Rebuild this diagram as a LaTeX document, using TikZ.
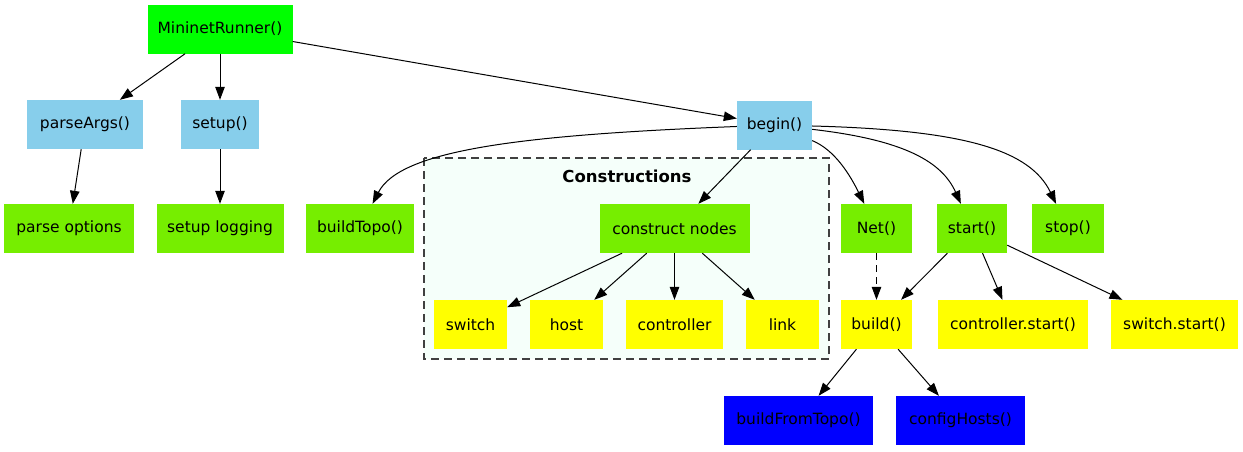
\documentclass[tikz,border=0pt]{standalone}
\usepackage{fontspec}
\setmainfont{DejaVu Sans}
\usetikzlibrary{arrows.meta}
\definecolor{cgreen}{HTML}{00FF00}
\definecolor{lgreen}{HTML}{76EE00}
\definecolor{sky}{HTML}{87CEEB}
\definecolor{yel}{HTML}{FFFF00}
\definecolor{blu}{HTML}{0000FF}
\definecolor{mint}{HTML}{F5FFFA}
\definecolor{clusterline}{HTML}{404040}
\tikzset{
  box/.style={inner sep=0pt, minimum height=49pt, font=\fontsize{15.5}{18}\selectfont, text=black},
  topbox/.style={box, fill=cgreen},
  skybox/.style={box, fill=sky},
  grbox/.style={box, fill=lgreen},
  yelbox/.style={box, fill=yel},
  blubox/.style={box, fill=blu},
  edge/.style={draw=black, line width=1pt, -{Triangle[length=13pt,width=9.5pt]}},
  dedge/.style={edge, dash pattern=on 7pt off 5pt},
}
\begin{document}
\begin{tikzpicture}[x=1pt,y=-1pt]
\useasboundingbox (0,0) rectangle (1243,451);
% cluster
\draw[fill=mint, draw=clusterline, line width=1.2pt, dash pattern=on 8pt off 5pt] (424,158) rectangle (829,359);
\node[font=\fontsize{16.5}{19}\selectfont\bfseries] (clab) at (627,176) {Constructions};
% nodes
\node[topbox, minimum width=145pt] (mr) at (220,29) {MininetRunner()};
\node[skybox, minimum width=116pt] (pa) at (85,124.5) {parseArgs()};
\node[skybox, minimum width=78pt] (su) at (220,124.5) {setup()};
\node[skybox, minimum width=75pt] (bg) at (774.5,125) {begin()};
\node[grbox, minimum width=130pt] (po) at (69,228.5) {parse options};
\node[grbox, minimum width=127pt] (sl) at (220,228.5) {setup logging};
\node[grbox, minimum width=108pt] (bt) at (360,228.5) {buildTopo()};
\node[grbox, minimum width=150pt] (cn) at (674.5,228.5) {construct nodes};
\node[grbox, minimum width=71pt] (net) at (876.5,228.5) {Net()};
\node[grbox, minimum width=70pt] (st) at (972,228.5) {start()};
\node[grbox, minimum width=72pt] (sp) at (1068,228.5) {stop()};
\node[yelbox, minimum width=73pt] (sw) at (470.5,324.5) {switch};
\node[yelbox, minimum width=73pt] (ho) at (566.5,324.5) {host};
\node[yelbox, minimum width=97pt] (co) at (674.5,324.5) {controller};
\node[yelbox, minimum width=73pt] (li) at (782.5,324.5) {link};
\node[yelbox, minimum width=71pt] (bu) at (876.5,324.5) {build()};
\node[yelbox, minimum width=150pt] (cs) at (1013,324.5) {controller.start()};
\node[yelbox, minimum width=127pt] (ss) at (1174.5,324.5) {switch.start()};
\node[blubox, minimum width=149pt] (bft) at (798.5,420.5) {buildFromTopo()};
\node[blubox, minimum width=129pt] (ch) at (960.5,420.5) {configHosts()};
% edges
\draw[edge] (mr) -- (pa);
\draw[edge] (mr) -- (su);
\draw[edge] (mr) -- (bg);
\draw[edge] (pa) -- (po);
\draw[edge] (su) -- (sl);
\draw[edge] (bg) .. controls (520,135) and (400,150) .. (bt);
\draw[edge] (bg) -- (cn);
\draw[edge] (bg) .. controls (835,150) and (850,175) .. (net);
\draw[edge] (bg) .. controls (905,140) and (942,162) .. (st);
\draw[edge] (bg) .. controls (965,130) and (1030,150) .. (sp);
\draw[edge] (cn) -- (sw);
\draw[edge] (cn) -- (ho);
\draw[edge] (cn) -- (co);
\draw[edge] (cn) -- (li);
\draw[dedge] (net) -- (bu);
\draw[edge] (st) -- (bu);
\draw[edge] (st) -- (cs);
\draw[edge] (st) -- (ss);
\draw[edge] (bu) -- (bft);
\draw[edge] (bu) -- (ch);
\end{tikzpicture}
\end{document}
